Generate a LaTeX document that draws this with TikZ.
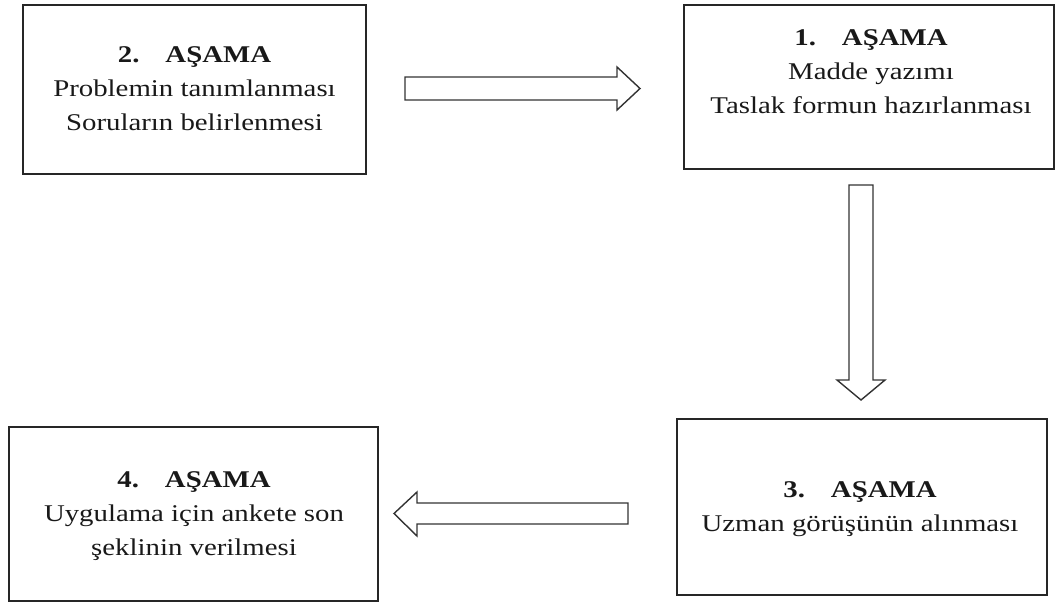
\documentclass[tikz,border=0pt]{standalone}
\usepackage{fontspec}
\setmainfont{Liberation Serif}[FakeStretch=1.2]
\begin{document}
\begin{tikzpicture}[x=1pt,y=-1pt,
  box/.style={draw=black!85, line width=1.6pt},
  blockarrow/.style={draw=black!80, line width=1.4pt, fill=white, line join=miter},
  txt/.style={inner sep=0pt, align=center, text=black!90, anchor=north, font=\fontsize{24}{34}\selectfont}]
\useasboundingbox[fill=white] (0,0) rectangle (1056,603);
% boxes
\draw[box] (23,5) rectangle (366,174);
\draw[box] (684,5) rectangle (1054,169);
\draw[box] (677,419) rectangle (1047,595);
\draw[box] (9,427) rectangle (378,601);
% texts
\node[txt] (s2) at (194.5,46) {\textbf{2.\hspace{26pt}AŞAMA}\\Problemin tanımlanması\\Soruların belirlenmesi};
\node[txt] (s1) at (871,29) {\textbf{1.\hspace{26pt}AŞAMA}\\Madde yazımı\\Taslak formun hazırlanması};
\node[txt] (s3) at (860,481) {\textbf{3.\hspace{26pt}AŞAMA}\\Uzman görüşünün alınması};
\node[txt] (s4) at (194,471) {\textbf{4.\hspace{26pt}AŞAMA}\\Uygulama için ankete son\\şeklinin verilmesi};
% block arrows
\draw[blockarrow] (405,77) -- (617,77) -- (617,67) -- (640,88.5) -- (617,110) -- (617,100) -- (405,100) -- cycle;
\draw[blockarrow] (849,185) -- (873,185) -- (873,380) -- (885,380) -- (861,400) -- (837,380) -- (849,380) -- cycle;
\draw[blockarrow] (628,503) -- (417,503) -- (417,492) -- (394,513.5) -- (417,536) -- (417,524) -- (628,524) -- cycle;
\end{tikzpicture}
\end{document}
